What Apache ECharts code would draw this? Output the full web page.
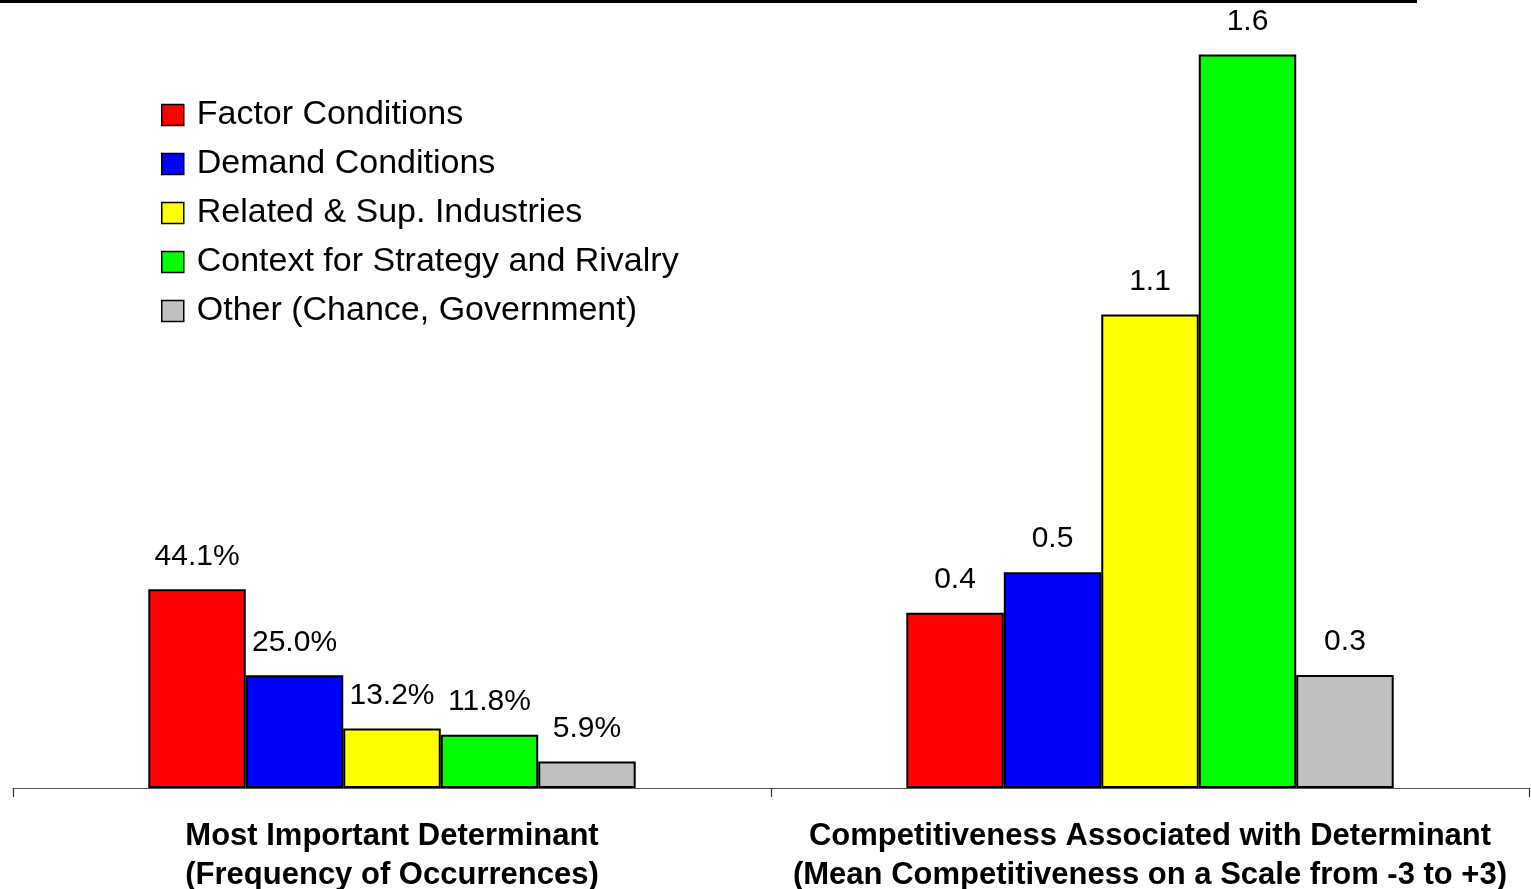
<!DOCTYPE html>
<html>
<head>
<meta charset="utf-8">
<script src="https://cdn.jsdelivr.net/npm/echarts@6/dist/echarts.min.js"></script>
<style>
html,body{margin:0;padding:0;background:#fff;}
#chart{width:1531px;height:889px;}
</style>
</head>
<body>
<div id="chart"></div>
<script>
// ---- data ----
const categories = [
  'Most Important Determinant\n(Frequency of Occurrences)',
  'Competitiveness Associated with Determinant\n(Mean Competitiveness on a Scale from -3 to +3)'
];
const seriesNames = [
  'Factor Conditions',
  'Demand Conditions',
  'Related & Sup. Industries',
  'Context for Strategy and Rivalry',
  'Other (Chance, Government)'
];
// share of occurrences (fraction) for the first group
const frequency = [0.441, 0.250, 0.132, 0.118, 0.059];
// mean competitiveness (scale -3..+3) for the second group
const competitiveness = [0.389, 0.479, 1.051, 1.628, 0.251];

const colors = ['#ff0000', '#0000ff', '#ffff00', '#00ff00', '#c0c0c0'];
const FONT = '"Liberation Sans", Arial, sans-serif';

function fmt(v, idx) {
  return idx === 0 ? (v * 100).toFixed(1) + '%' : v.toFixed(1);
}

const series = seriesNames.map((name, i) => ({
  name: name,
  type: 'bar',
  data: [frequency[i], competitiveness[i]],
  barGap: '0%',
  barCategoryGap: '35.7%',
  itemStyle: { color: colors[i], borderColor: '#000', borderWidth: 2 },
  label: {
    show: true,
    position: 'top',
    distance: 18,
    color: '#000',
    fontFamily: FONT,
    fontSize: 30,
    formatter: p => fmt(p.value, p.dataIndex)
  },
  emphasis: { disabled: true },
  animation: false
}));

const chart = echarts.init(document.getElementById('chart'), null, { renderer: 'canvas' });
chart.setOption({
  backgroundColor: '#fff',
  animation: false,
  color: colors,
  grid: { left: 13, right: 2, top: 22, bottom: 101, containLabel: false, outerBoundsMode: 'none' },
  legend: {
    orient: 'vertical',
    left: 161,
    top: 98,
    padding: 0,
    itemWidth: 22,
    itemHeight: 21,
    itemGap: 15,
    icon: 'rect',
    selectedMode: false,
    itemStyle: { borderColor: '#000', borderWidth: 1.5 },
    textStyle: {
      fontFamily: FONT,
      fontSize: 34,
      color: '#000',
      padding: [0, 0, 0, 8]
    },
    data: seriesNames
  },
  xAxis: {
    type: 'category',
    data: categories,
    axisLine: { lineStyle: { color: '#555', width: 1.2 } },
    axisTick: { show: true, length: 9, lineStyle: { color: '#333', width: 1.2 } },
    axisLabel: {
      margin: 29,
      color: '#000',
      fontFamily: FONT,
      fontWeight: 'bold',
      fontSize: 31,
      lineHeight: 39,
      interval: 0
    }
  },
  yAxis: {
    type: 'value',
    min: 0,
    max: 1.7,
    show: false,
    splitLine: { show: false }
  },
  graphic: [
    {
      type: 'line',
      shape: { x1: 0, y1: 1.5, x2: 1417, y2: 1.5 },
      style: { stroke: '#000', lineWidth: 3 }
    }
  ],
  series: series
});
</script>
</body>
</html>
